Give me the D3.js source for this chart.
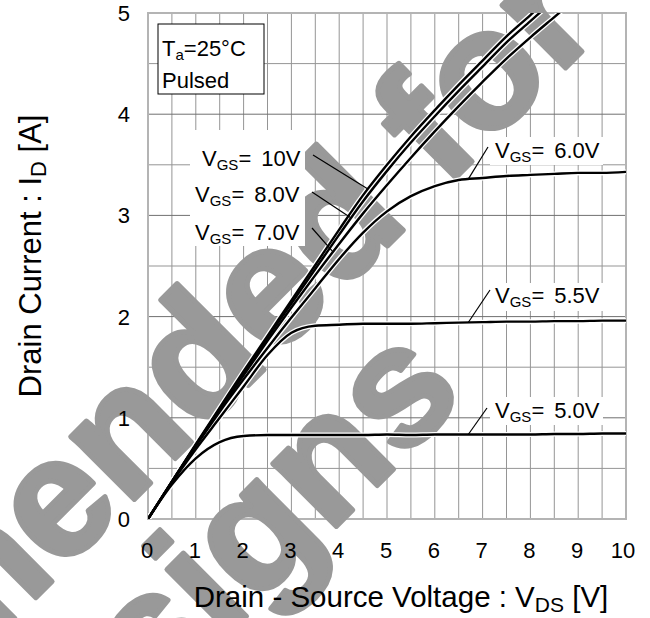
<!DOCTYPE html>
<html>
<head>
<meta charset="utf-8">
<script src="https://cdn.jsdelivr.net/npm/d3@7"></script>
<style>
  body { margin: 0; background: #fff; }
  text { font-family: "Liberation Sans", Arial, sans-serif; }
</style>
</head>
<body>
<div id="chart"></div>
<script>
// drain-source voltage grid (V) shared by all curves
var vds = [0, 0.5, 1, 1.5, 2, 2.5, 3, 3.5, 4, 4.5, 5, 5.5, 6, 6.5, 7, 7.5, 8, 8.5, 9, 9.5, 10];

// drain current (A) per gate voltage
var id10 = [0, 0.37, 0.74, 1.10, 1.46, 1.81, 2.16, 2.51, 2.86, 3.20, 3.50, 3.78, 4.04, 4.29, 4.53, 4.77, 4.98, 5.2];
var id80 = [0, 0.37, 0.73, 1.09, 1.44, 1.79, 2.13, 2.47, 2.81, 3.14, 3.44, 3.72, 3.98, 4.23, 4.47, 4.71, 4.92, 5.13];
var id70 = [0, 0.37, 0.73, 1.08, 1.42, 1.76, 2.09, 2.41, 2.72, 3.02, 3.30, 3.57, 3.83, 4.08, 4.32, 4.55, 4.76, 4.96, 5.16];
var id60 = [0, 0.37, 0.72, 1.06, 1.38, 1.69, 1.99, 2.28, 2.57, 2.83, 3.04, 3.19, 3.29, 3.35, 3.37, 3.39, 3.40, 3.41, 3.42, 3.42, 3.43];
var id55 = [0, 0.36, 0.69, 1.00, 1.31, 1.62, 1.84, 1.91, 1.92, 1.93, 1.93, 1.93, 1.935, 1.94, 1.945, 1.95, 1.95, 1.955, 1.955, 1.96, 1.96];
var id50 = [0, 0.34, 0.60, 0.76, 0.82, 0.83, 0.83, 0.83, 0.83, 0.83, 0.835, 0.83, 0.835, 0.835, 0.835, 0.835, 0.835, 0.84, 0.84, 0.845, 0.845];

var seriesNames = ["10V", "8.0V", "7.0V", "6.0V", "5.5V", "5.0V"];
var seriesData = [id10, id80, id70, id60, id55, id50];

var xTicks = [0, 1, 2, 3, 4, 5, 6, 7, 8, 9, 10];
var yTicks = [0, 1, 2, 3, 4, 5];

// where each V_GS label sits (text start, baseline) and where its pointer touches the curve
var labelPos = {
  "10V":  {x: 202, y: 166, from: [313, 155], to: 4.6},
  "8.0V": {x: 195, y: 202, from: [312, 192], to: 4.25},
  "7.0V": {x: 195, y: 240, from: [312, 228], to: 3.87},
  "6.0V": {x: 495, y: 158, from: [488, 147], to: 6.7},
  "5.5V": {x: 495, y: 303, from: [490, 290], to: 6.7},
  "5.0V": {x: 495, y: 418, from: [487, 408], to: 6.7}
};

var width = 650, height = 618;

var svg = d3.select("#chart")
  .append("svg")
    .attr("width", width)
    .attr("height", height);

var x = d3.scaleLinear().domain([0, 10]).range([148, 626]);
var y = d3.scaleLinear().domain([0, 5]).range([519, 13]);

// grid every 0.5 in both directions
var grid = svg.append("g");
d3.range(0, 10.01, 0.5).forEach(function(v) {
  grid.append("line")
    .attr("x1", x(v)).attr("x2", x(v))
    .attr("y1", y(0)).attr("y2", y(5))
    .attr("stroke", "#959595")
    .attr("stroke-width", 1);
});
d3.range(0, 5.01, 0.5).forEach(function(v) {
  grid.append("line")
    .attr("x1", x(0)).attr("x2", x(10))
    .attr("y1", y(v)).attr("y2", y(v))
    .attr("stroke", v % 1 === 0 ? "#707070" : "#959595")
    .attr("stroke-width", 1);
});
svg.append("rect")
  .attr("x", x(0)).attr("y", y(5))
  .attr("width", x(10) - x(0)).attr("height", y(0) - y(5))
  .attr("fill", "none")
  .attr("stroke", "#b4b4b4")
  .attr("stroke-width", 2);

// watermark
var wm = svg.append("g")
  .attr("transform", "rotate(-45)")
  .attr("fill", "#999999")
  .attr("stroke", "#999999")
  .attr("stroke-width", 5)
  .attr("stroke-linejoin", "round")
  .attr("font-weight", "bold")
  .attr("font-size", "169px")
  .attr("text-anchor", "end");
wm.append("text").attr("x", 406).attr("y", 448).text("Not recommended for");
wm.append("text").attr("x", 51).attr("y", 610).text("new designs");

// curves
svg.append("clipPath").attr("id", "plotclip")
  .append("rect")
    .attr("x", x(0)).attr("y", y(5))
    .attr("width", x(10) - x(0)).attr("height", y(0) - y(5));

var line = d3.line()
  .x(function(d) { return x(d[0]); })
  .y(function(d) { return y(d[1]); })
  .curve(d3.curveMonotoneX);

var curves = svg.append("g").attr("clip-path", "url(#plotclip)");
seriesData.forEach(function(ids) {
  var pts = ids.map(function(v, i) { return [vds[i], v]; });
  curves.append("path")
    .attr("d", line(pts))
    .attr("fill", "none")
    .attr("stroke", "#fff")
    .attr("stroke-width", 5);
});
seriesData.forEach(function(ids) {
  var pts = ids.map(function(v, i) { return [vds[i], v]; });
  curves.append("path")
    .attr("d", line(pts))
    .attr("fill", "none")
    .attr("stroke", "#000")
    .attr("stroke-width", 2.4);
});

// current on a curve at a given V_DS (for pointer tips)
function idAt(ids, v) {
  var i = Math.min(Math.floor(v / 0.5), ids.length - 2);
  var t = (v - vds[i]) / 0.5;
  return ids[i] + (ids[i + 1] - ids[i]) * t;
}

// label backgrounds
svg.append("rect").attr("x", 190).attr("y", 130).attr("width", 115).attr("height", 116).attr("fill", "#fff");
[["6.0V", 137], ["5.5V", 283], ["5.0V", 397]].forEach(function(b) {
  svg.append("rect").attr("x", 490).attr("y", b[1]).attr("width", 113).attr("height", 28).attr("fill", "#fff");
});

seriesNames.forEach(function(name, k) {
  var p = labelPos[name];
  svg.append("line")
    .attr("x1", p.from[0]).attr("y1", p.from[1])
    .attr("x2", x(p.to)).attr("y2", y(idAt(seriesData[k], p.to)))
    .attr("stroke", "#000")
    .attr("stroke-width", 1.2);
  var t = svg.append("text")
    .attr("x", p.x).attr("y", p.y)
    .attr("font-size", "22px");
  t.append("tspan").text("V");
  t.append("tspan").attr("font-size", "15px").attr("dy", 4).text("GS");
  t.append("tspan").attr("dy", -4).text("=");
  t.append("tspan").attr("dx", 10).text(name);
});

// Ta / Pulsed box
svg.append("rect")
  .attr("x", 158).attr("y", 24).attr("width", 106).attr("height", 70)
  .attr("fill", "#fff").attr("stroke", "#000").attr("stroke-width", 1);
var ta = svg.append("text").attr("x", 162).attr("y", 56).attr("font-size", "22px");
ta.append("tspan").text("T");
ta.append("tspan").attr("font-size", "15px").attr("dy", 4).text("a");
ta.append("tspan").attr("dy", -4).text("=25°C");
svg.append("text").attr("x", 162).attr("y", 88).attr("font-size", "22px").text("Pulsed");

// tick labels
svg.append("g").selectAll("text")
  .data(xTicks).enter().append("text")
    .attr("x", function(d) { return x(d) - (d === 10 ? 3 : 1); })
    .attr("y", 558)
    .attr("text-anchor", "middle")
    .attr("font-size", "22px")
    .text(function(d) { return d; });
svg.append("g").selectAll("text")
  .data(yTicks).enter().append("text")
    .attr("x", 130)
    .attr("y", function(d) { return y(d) + 8; })
    .attr("text-anchor", "end")
    .attr("font-size", "22px")
    .text(function(d) { return d; });

// axis titles
var xt = svg.append("text")
  .attr("x", 401).attr("y", 607)
  .attr("text-anchor", "middle")
  .attr("font-size", "29.5px");
xt.append("tspan").text("Drain - Source Voltage : V");
xt.append("tspan").attr("font-size", "21px").attr("dy", 5).text("DS");
xt.append("tspan").attr("dy", -5).text(" [V]");

var yt = svg.append("text")
  .attr("transform", "translate(41,256) rotate(-90)")
  .attr("text-anchor", "middle")
  .attr("font-size", "31px");
yt.append("tspan").text("Drain Current : I");
yt.append("tspan").attr("font-size", "22px").attr("dy", 5).text("D");
yt.append("tspan").attr("dy", -5).text(" [A]");
</script>
</body>
</html>
